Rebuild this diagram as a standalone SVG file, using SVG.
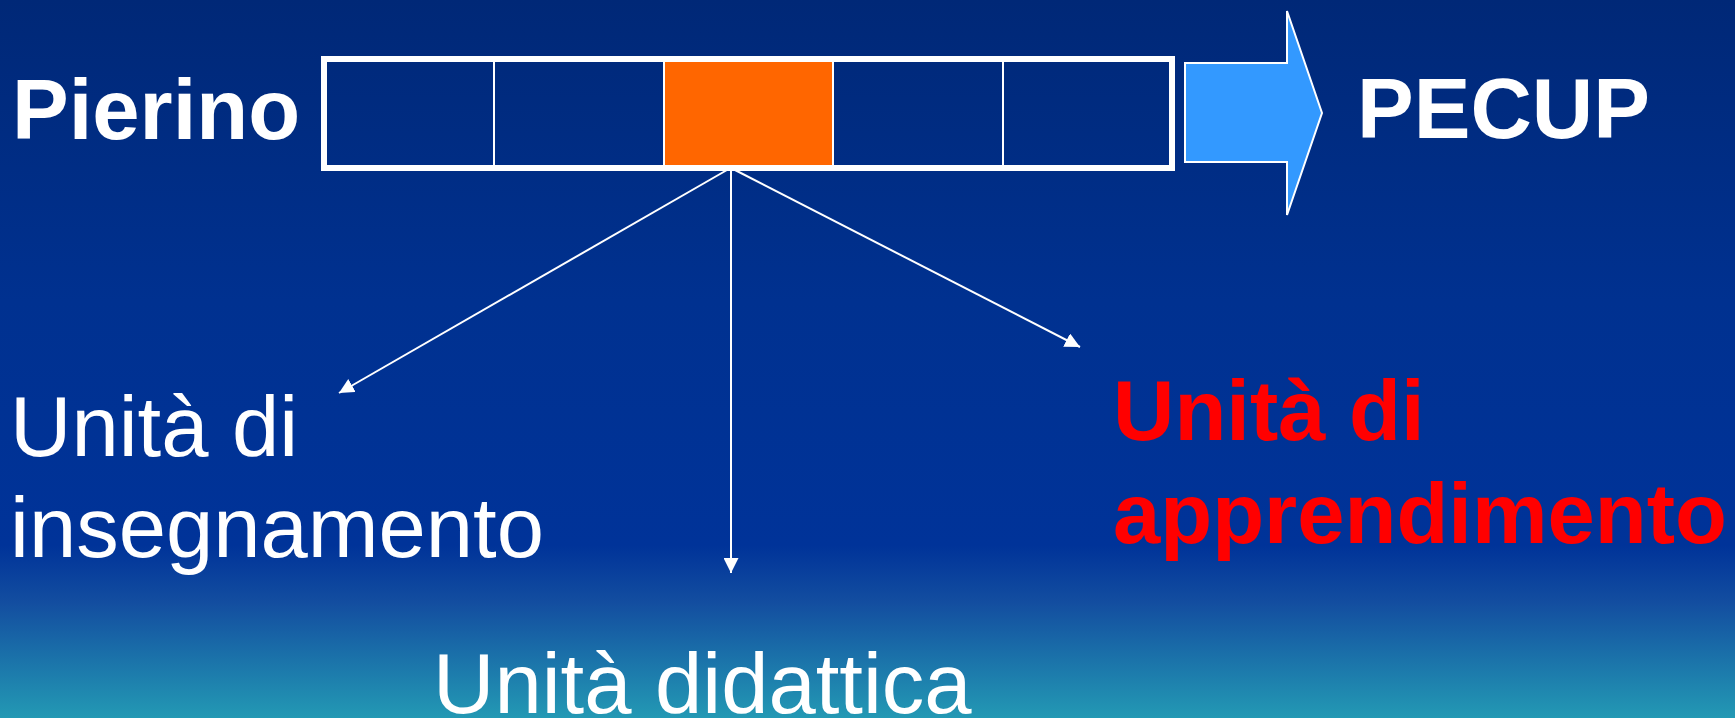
<svg xmlns="http://www.w3.org/2000/svg" width="1735" height="718" viewBox="0 0 1735 718">
  <defs>
    <linearGradient id="bg" x1="0" y1="0" x2="0" y2="718" gradientUnits="userSpaceOnUse">
      <stop offset="0" stop-color="#002877"/>
      <stop offset="0.42" stop-color="#003190"/>
      <stop offset="0.76" stop-color="#003399"/>
      <stop offset="0.84" stop-color="#134ea0"/>
      <stop offset="1" stop-color="#2399b4"/>
    </linearGradient>
    <marker id="ah" viewBox="0 0 10 10" refX="10" refY="5" markerWidth="15" markerHeight="15" markerUnits="userSpaceOnUse" orient="auto">
      <path d="M0,0 L10,5 L0,10 Z" fill="#ffffff"/>
    </marker>
    <style>
      .lbl { font-family: "Liberation Sans", Arial, sans-serif; font-size: 85px; }
      .b { font-weight: bold; }
      .w { fill: #ffffff; }
      .r { fill: #ff0000; }
      .div { stroke: #ffffff; stroke-width: 2; }
      .conn { stroke: #ffffff; stroke-width: 2; fill: none; marker-end: url(#ah); }
    </style>
  </defs>
  <rect x="0" y="0" width="1735" height="718" fill="url(#bg)"/>

  <g id="pierino">
    <text class="lbl b w" x="12" y="139">Pierino</text>
  </g>

  <g id="bar">
    <rect x="664" y="62" width="168" height="103" fill="#ff6600"/>
    <line class="div" x1="494" y1="62" x2="494" y2="166"/>
    <line class="div" x1="664" y1="62" x2="664" y2="166"/>
    <line class="div" x1="833" y1="62" x2="833" y2="166"/>
    <line class="div" x1="1003" y1="62" x2="1003" y2="166"/>
    <rect x="324" y="59" width="848" height="109" fill="none" stroke="#ffffff" stroke-width="6"/>
  </g>

  <g id="big-arrow">
    <polygon points="1185,63 1287,63 1287,11 1322,113 1287,215 1287,162 1185,162" fill="#3399ff" stroke="#ffffff" stroke-width="2"/>
  </g>

  <g id="pecup">
    <text class="lbl b w" x="1357" y="138">PECUP</text>
  </g>

  <g id="connectors">
    <line class="conn" x1="727" y1="170" x2="339" y2="393"/>
    <line class="conn" x1="731" y1="170" x2="731" y2="573"/>
    <line class="conn" x1="735" y1="170" x2="1080" y2="347"/>
  </g>

  <g id="unita-insegnamento">
    <text class="lbl w" x="10" y="456">Unità di</text>
    <text class="lbl w" x="10" y="557">insegnamento</text>
  </g>

  <g id="unita-didattica">
    <text class="lbl w" x="433" y="713">Unità didattica</text>
  </g>

  <g id="unita-apprendimento">
    <text class="lbl b r" x="1113" y="440">Unità di</text>
    <text class="lbl b r" x="1113" y="543">apprendimento</text>
  </g>
</svg>
